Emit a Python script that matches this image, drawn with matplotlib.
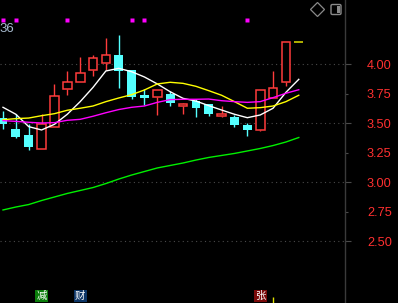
import matplotlib
matplotlib.use("Agg")
import matplotlib.pyplot as plt
import matplotlib.transforms as mtransforms
from matplotlib.patches import FancyBboxPatch, Rectangle
import numpy as np

# daily candles (last one is the flat opening bar)
opens  = [3.54, 3.45, 3.40, 3.28, 3.47, 3.79, 3.85, 3.95, 4.01, 4.08, 3.95, 3.74,
          3.72, 3.75, 3.64, 3.69, 3.66, 3.56, 3.55, 3.48, 3.44, 3.71, 3.85, 4.19]
closes = [3.49, 3.38, 3.30, 3.49, 3.73, 3.85, 3.92, 4.05, 4.08, 3.94, 3.72, 3.71,
          3.78, 3.67, 3.66, 3.63, 3.58, 3.58, 3.48, 3.44, 3.78, 3.80, 4.19, 4.19]
highs  = [3.60, 3.58, 3.49, 3.58, 3.83, 3.94, 4.06, 4.08, 4.22, 4.25, 3.95, 3.79,
          3.78, 3.77, 3.67, 3.70, 3.66, 3.64, 3.57, 3.50, 3.78, 3.94, 4.19, 4.19]
lows   = [3.45, 3.37, 3.27, 3.28, 3.47, 3.74, 3.85, 3.90, 3.95, 3.80, 3.70, 3.65,
          3.57, 3.64, 3.58, 3.55, 3.56, 3.55, 3.47, 3.39, 3.43, 3.71, 3.81, 4.19]

# moving averages
ma5  = [3.633, 3.574, 3.469, 3.441, 3.489, 3.574, 3.681, 3.802, 3.941, 3.963, 3.935, 3.890,
        3.831, 3.765, 3.709, 3.686, 3.647, 3.610, 3.574, 3.545, 3.568, 3.625, 3.760, 3.870]
ma10 = [3.528, 3.537, 3.542, 3.562, 3.579, 3.608, 3.625, 3.644, 3.681, 3.712, 3.740, 3.780,
        3.831, 3.845, 3.836, 3.811, 3.774, 3.735, 3.681, 3.625, 3.630, 3.644, 3.681, 3.735]
ma20 = [3.520, 3.514, 3.506, 3.500, 3.503, 3.523, 3.531, 3.557, 3.587, 3.614, 3.633, 3.644,
        3.675, 3.698, 3.701, 3.701, 3.703, 3.689, 3.681, 3.675, 3.681, 3.715, 3.752, 3.782]
ma60 = [2.763, 2.788, 2.809, 2.843, 2.873, 2.903, 2.928, 2.953, 2.987, 3.025, 3.059, 3.089,
        3.119, 3.140, 3.161, 3.186, 3.208, 3.225, 3.242, 3.263, 3.284, 3.309, 3.339, 3.377]

signal_days = [0, 1, 5, 10, 11, 19]
tags = [(3, "减", "#0b7d0b"), (6, "财", "#0d3566"), (20, "张", "#7a0a0a")]
mark_day = 21

yticks = [2.50, 2.75, 3.00, 3.25, 3.50, 3.75, 4.00]

W, H = 398, 303
fig = plt.figure(figsize=(W / 100, H / 100), dpi=100, facecolor="black")
ax = fig.add_axes([0, 0, 345 / W, 1])
ax.set_facecolor("black")

UP = "#ff3c3c"
DN = "#54ffff"
x = np.arange(len(opens))
o = np.array(opens); c = np.array(closes); hi = np.array(highs); lo = np.array(lows)
up = c > o
dn = c < o
flat = c == o
bw = 0.68

# falling candles: filled, wick through
ax.vlines(x[dn], lo[dn], hi[dn], color=DN, lw=1.0, zorder=3)
ax.bar(x[dn], (o - c)[dn], bottom=c[dn], width=bw, color=DN, zorder=4)
# rising candles: hollow, wick outside the body
ax.vlines(x[up], c[up], hi[up], color=UP, lw=1.0, zorder=3)
ax.vlines(x[up], lo[up], o[up], color=UP, lw=1.0, zorder=3)
ax.bar(x[up], (c - o)[up], bottom=o[up], width=bw, facecolor="black",
       edgecolor=UP, linewidth=1.1, zorder=4)
# flat bar
ax.hlines(c[flat], x[flat] - 0.35, x[flat] + 0.35, color="#e0e000", lw=1.1, zorder=4)

ax.plot(x, ma5, color="white", lw=1.0, zorder=5)
ax.plot(x, ma10, color="#ffff00", lw=1.0, zorder=5)
ax.plot(x, ma20, color="#ff00ff", lw=1.0, zorder=5)
ax.plot(x, ma60, color="#00f000", lw=1.0, zorder=5)

x0 = -3 / 12.86
ax.set_xlim(x0, x0 + 345 / 12.86)
ax.set_ylim(4 - 239 / 118, 4 + 64 / 118)

# axis on the right
for s in ["left", "top", "bottom"]:
    ax.spines[s].set_visible(False)
ax.spines["right"].set_color("#3a3a3a")
ax.spines["right"].set_linewidth(1.0)
ax.set_xticks([])
ax.yaxis.tick_right()
major = [t for t in yticks if abs(t * 2 - round(t * 2)) < 1e-6]
minor = [t for t in yticks if t not in major]
ax.set_yticks(major, labels=[f"{t:.2f}" for t in major])
ax.set_yticks(minor, labels=[f"{t:.2f}" for t in minor], minor=True)
ax.tick_params(axis="y", which="major", length=4.3, width=0.8, color="#4a4a4a",
               pad=11.5, labelcolor="#ff3030", labelsize=9.2)
ax.tick_params(axis="y", which="minor", length=2.2, width=0.8, color="#4a4a4a",
               pad=13.6, labelcolor="#ff3030", labelsize=9.2)
for lab in ax.get_yticklabels(which="both"):
    lab.set_fontfamily("Liberation Sans")
ax.yaxis.grid(True, which="major", color="#4a4a4a", lw=0.8, linestyle=(0, (1, 3)))
ax.set_axisbelow(True)

# signal dots along the top
tr = mtransforms.blended_transform_factory(ax.transData, ax.transAxes)
ax.plot(signal_days, [1 - 20 / H] * len(signal_days), linestyle="none", marker="s",
        ms=2.6, color="#ff00ff", mec="none", transform=tr, clip_on=False, zorder=6)

# event tags along the bottom
for d, ch, col in tags:
    ax.text(d, 1 - 296 / H, ch, transform=tr, ha="center", va="center", color="white",
            fontsize=7.5, family=["Noto Sans CJK SC", "DejaVu Sans"],
            bbox=dict(boxstyle="square,pad=0.12", fc=col, ec="none"), zorder=7)
ax.vlines(mark_day, 0, 6 / H, transform=tr, color="#e0e000", lw=1.0, zorder=6)

# top-left value and top-right icons
fig.text(-1 / W, 1 - 29 / H, "36", color="#a8bcd0", fontsize=9.5,
         family="Liberation Sans", ha="left", va="center")
fig.add_artist(plt.Line2D([317 / W], [1 - 9 / H], marker="D", ms=7, mfc="none",
                          mec="#8a8a8a", mew=0.9, linestyle="none"))
fig.add_artist(FancyBboxPatch((331 / W, 1 - 14.5 / H), 10 / W, 10 / H,
                              boxstyle="round,pad=0,rounding_size=0.004",
                              transform=fig.transFigure, fc="none", ec="#8a8a8a", lw=1.0))
fig.add_artist(Rectangle((336.5 / W, 1 - 12.5 / H), 3 / W, 6 / H,
                         transform=fig.transFigure, fc="#8a8a8a", ec="none"))

fig.savefig("out.png", dpi=100, facecolor="black")
